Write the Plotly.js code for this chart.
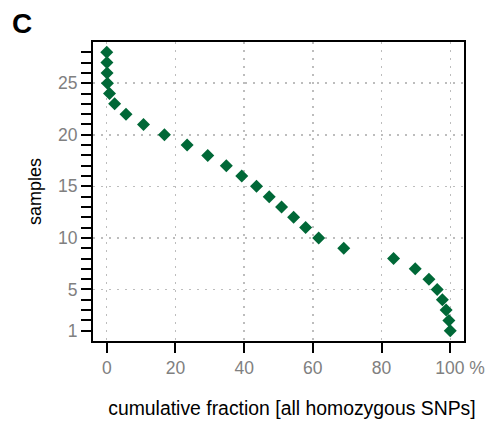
<!DOCTYPE html>
<html>
<head>
<meta charset="utf-8">
<script src="https://cdn.plot.ly/plotly-3.0.1.min.js"></script>
<style>html,body{margin:0;padding:0;background:#fff;}#chart{width:490px;height:423px;}</style>
</head>
<body>
<div id="chart"></div>
<script>
// samples (y) and cumulative fraction in percent (x)
const samples = [1,2,3,4,5,6,7,8,9,10,11,12,13,14,15,16,17,18,19,20,21,22,23,24,25,26,27,28];
const cumulativeFraction = [100,99.6,98.8,97.7,96.2,93.8,89.8,83.5,69.0,61.7,57.9,54.4,50.9,47.3,43.6,39.3,34.8,29.4,23.4,16.8,10.7,5.6,2.3,0.8,0.2,0.1,0.05,0];
const xTickVals = [0,20,40,60,80,100];
const xTickText = ['0','20','40','60','80','\u00a0\u00a0\u00a0\u00a0100 %'];
const yTickVals = samples;
const yLabelled = [1,5,10,15,20,25];
const yGridVals = [5,10,15,20,25];
const yTickText = yTickVals.map(v => yLabelled.includes(v) ? String(v) : '');

const FONT = 'Liberation Sans, Arial, Helvetica, sans-serif';
const GRID = '#bdbdbd';

// empty trace only so that the base axis with ticks (y) is drawn
const axisTrace = {
  x: [], y: [], xaxis: 'x', yaxis: 'y',
  type: 'scatter', mode: 'markers', hoverinfo: 'skip', showlegend: false
};

const trace = {
  x: cumulativeFraction,
  y: samples,
  xaxis: 'x', yaxis: 'y2',
  type: 'scatter',
  mode: 'markers',
  marker: {symbol: 'diamond', size: 10, color: '#006837', line: {width: 0}},
  hoverinfo: 'x+y',
  showlegend: false
};

const layout = {
  width: 490, height: 423,
  margin: {l: 93, r: 26, t: 42, b: 82},
  paper_bgcolor: '#fff', plot_bgcolor: '#fff',
  font: {family: FONT, size: 18, color: '#000'},
  title: {text: 'C', font: {family: FONT, size: 28, weight: 'bold', color: '#000'},
          x: 12/490, xref: 'container', xanchor: 'left', y: 1 - 23/423, yref: 'container', yanchor: 'middle'},
  xaxis: {
    range: [-4, 104],
    tickmode: 'array', tickvals: xTickVals, ticktext: xTickText,
    ticks: 'outside', ticklen: 10, tickwidth: 2, tickcolor: '#000',
    tickfont: {family: FONT, size: 17.5, color: '#808080'},
    showline: true, linecolor: '#000', linewidth: 2, mirror: true,
    showgrid: true, gridcolor: GRID, gridwidth: 1.5, griddash: '2px,6px',
    zeroline: false,
    title: {text: '\u200b\u00a0\u00a0\u00a0\u00a0\u00a0cumulative fraction [all homozygous SNPs]', font: {family: FONT, size: 19.4, color: '#000'}, standoff: 24}
  },
  yaxis: {
    range: [0, 29],
    tickmode: 'array', tickvals: yTickVals, ticktext: yTickText,
    ticks: 'outside', ticklen: 10, tickwidth: 2, tickcolor: '#000',
    tickfont: {family: FONT, size: 17.5, color: '#808080'},
    showline: true, linecolor: '#000', linewidth: 2, mirror: true,
    showgrid: false, zeroline: false,
    title: {text: 'samples', font: {family: FONT, size: 18, color: '#000'}, standoff: 12}
  },
  yaxis2: {
    overlaying: 'y', anchor: 'x', side: 'left',
    range: [0, 29],
    tickmode: 'array', tickvals: yGridVals,
    showticklabels: false, ticks: '', showline: false, zeroline: false,
    showgrid: true, gridcolor: GRID, gridwidth: 1.5, griddash: '2px,6px'
  }
};

Plotly.newPlot('chart', [axisTrace, trace], layout, {displayModeBar: false, staticPlot: true});
</script>
</body>
</html>
